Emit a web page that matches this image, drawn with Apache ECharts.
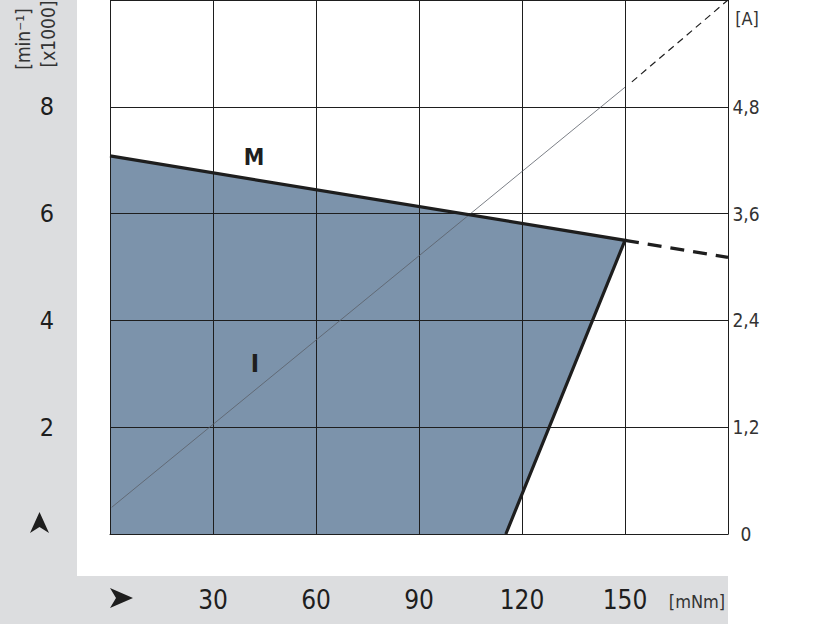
<!DOCTYPE html>
<html><head><meta charset="utf-8">
<script src="https://cdn.jsdelivr.net/npm/echarts@6/dist/echarts.min.js"></script>
<style>html,body{margin:0;padding:0;background:#fff}#c{width:816px;height:624px}</style>
</head><body><div id="c"></div>
<script>
// ---- data ----
var torqueTicks = [0, 30, 60, 90, 120, 150, 180];          // mNm
var speedTicks = [0, 2, 4, 6, 8, 10];                       // x1000 min^-1
var currentTicks = [0, 1.2, 2.4, 3.6, 4.8, 6.0];            // A
// operating area (torque mNm, speed x1000 min^-1)
var areaTorque = [0, 0, 150, 115.3];
var areaSpeed  = [0, 7.08, 5.5, 0];
// speed line M
var mTorque = [0, 150];
var mSpeed  = [7.08, 5.5];
var mDashTorque = [150, 180];
var mDashSpeed  = [5.5, 5.18];
// current line I
var iTorque = [0.5, 150];
var iCurrent = [0.30, 5.02];
var iDashTorque = [152, 180];
var iDashCurrent = [5.08, 6.0];

function pairs(a, b) { return a.map(function (v, k) { return [v, b[k]]; }); }

var FONT = "'DejaVu Sans Condensed','Liberation Sans',sans-serif";
var INK = '#1e1e1e';
var GRAYBG = '#dcdddf';

var chart = echarts.init(document.getElementById('c'), null, {renderer: 'svg'});
chart.setOption({
  animation: false,
  backgroundColor: '#ffffff',
  grid: {left: 110, top: -1, width: 618, height: 535},
  graphic: [
    {type: 'rect', z: -10, shape: {x: 0, y: 0, width: 77, height: 624}, style: {fill: GRAYBG}},
    {type: 'rect', z: -10, shape: {x: 0, y: 576, width: 728, height: 48}, style: {fill: GRAYBG}},
    {type: 'polygon', shape: {points: [[133, 598], [110, 588], [116, 598], [110, 608]]}, style: {fill: INK}},
    {type: 'polygon', shape: {points: [[39.5, 512], [49, 533], [39.5, 527], [30, 533]]}, style: {fill: INK}},
    {type: 'text', x: 23, y: 39, rotation: Math.PI / 2, style: {text: '[min⁻¹]', font: '19px ' + FONT, fill: '#333', textAlign: 'center', textVerticalAlign: 'middle'}},
    {type: 'text', x: 48, y: 34, rotation: Math.PI / 2, style: {text: '[x1000]', font: '19px ' + FONT, fill: '#333', textAlign: 'center', textVerticalAlign: 'middle'}},
    {type: 'text', x: 697, y: 601, style: {text: '[mNm]', font: '18px ' + FONT, fill: '#333', textAlign: 'center', textVerticalAlign: 'middle'}},
    {type: 'text', x: 747, y: 18, style: {text: '[A]', font: '18px ' + FONT, fill: '#333', textAlign: 'center', textVerticalAlign: 'middle'}},
    {type: 'text', x: 254, y: 157, z: 10, style: {text: 'M', font: 'bold 23px ' + FONT, fill: INK, textAlign: 'center', textVerticalAlign: 'middle'}},
    {type: 'text', x: 255, y: 363, z: 10, style: {text: 'I', font: 'bold 25px ' + FONT, fill: INK, textAlign: 'center', textVerticalAlign: 'middle'}}
  ],
  xAxis: {
    type: 'value', z: 3, min: torqueTicks[0], max: torqueTicks[torqueTicks.length - 1], interval: 30,
    axisLine: {show: true, lineStyle: {color: INK, width: 1}},
    axisTick: {show: false},
    splitLine: {show: true, lineStyle: {color: INK, width: 1}},
    axisLabel: {
      margin: 66, verticalAlign: 'middle', color: INK, fontSize: 26, fontFamily: FONT,
      formatter: function (v) { return (v === 0 || v === 180) ? '' : String(v); }
    }
  },
  yAxis: [{
    type: 'value', z: 3, min: speedTicks[0], max: speedTicks[speedTicks.length - 1], interval: 2,
    axisLine: {show: true, lineStyle: {color: INK, width: 1}},
    axisTick: {show: false},
    splitLine: {show: true, lineStyle: {color: INK, width: 1}},
    axisLabel: {
      margin: 63, align: 'center', color: INK, fontSize: 25, fontFamily: FONT,
      formatter: function (v) { return (v === 0 || v === 10) ? '' : String(v); }
    }
  }, {
    type: 'value', z: 3, position: 'right', min: currentTicks[0], max: currentTicks[currentTicks.length - 1], interval: 1.2,
    axisLine: {show: true, lineStyle: {color: INK, width: 1}},
    axisTick: {show: false},
    splitLine: {show: false},
    axisLabel: {
      margin: 18, align: 'center', color: '#333', fontSize: 19, fontFamily: FONT,
      formatter: function (v) {
        if (Math.abs(v - 6) < 1e-6) return '';
        if (v === 0) return '0';
        return v.toFixed(1).replace('.', ',');
      }
    }
  }],
  series: [
    {
      type: 'custom', z: 1, yAxisIndex: 0,
      data: [0],
      renderItem: function (params, api) {
        var pts = pairs(areaTorque, areaSpeed).map(function (p) { return api.coord(p); });
        return {type: 'polygon', shape: {points: pts}, style: {fill: '#7c93ab', stroke: 'none'}};
      },
      silent: true
    },
    {
      type: 'line', yAxisIndex: 1, z: 5, symbol: 'none', silent: true,
      data: pairs(iTorque, iCurrent),
      lineStyle: {color: '#5a6068', width: 0.8}
    },
    {
      type: 'line', yAxisIndex: 1, z: 5, symbol: 'none', silent: true,
      data: pairs(iDashTorque, iDashCurrent),
      lineStyle: {color: INK, width: 1.2, type: [7, 5]}
    },
    {
      type: 'line', yAxisIndex: 0, z: 6, symbol: 'none', silent: true,
      data: pairs(mTorque, mSpeed).concat([[areaTorque[3], areaSpeed[3]]]),
      lineStyle: {color: INK, width: 3.2, join: 'miter'}
    },
    {
      type: 'line', yAxisIndex: 0, z: 6, symbol: 'none', silent: true,
      data: pairs(mDashTorque, mDashSpeed),
      lineStyle: {color: INK, width: 3.2, type: [14, 9]}
    }
  ]
});
</script></body></html>
